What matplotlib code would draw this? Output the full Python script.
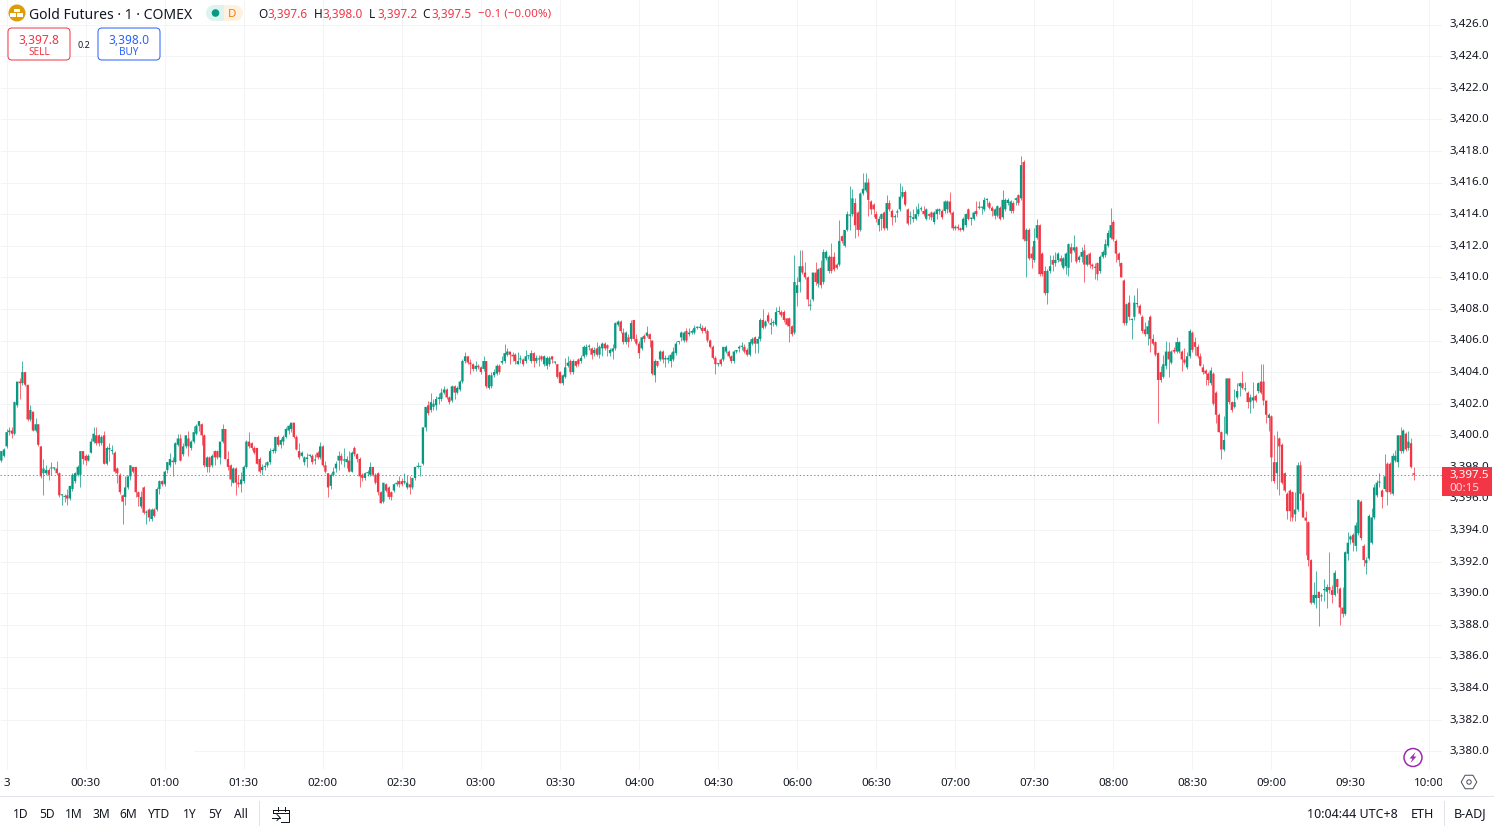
import numpy as np
import matplotlib
matplotlib.use('Agg')
import matplotlib.pyplot as plt
from matplotlib.patches import Circle, FancyBboxPatch, Polygon, Rectangle, RegularPolygon
from matplotlib.transforms import Bbox, ScaledTranslation

plt.rcParams['font.family'] = ['Noto Sans', 'DejaVu Sans']

# ─── DATA ───────────────────────────────────────────────────────────────────────
# 1 minute candles, prices, relative to BASE_PRICE
BASE_PRICE = 3400.0

opens = [
    -1.6,-1.3,-0.7,0.2,0.3,0.1,1.9,3.4,3.3,4.0,
    3.2,1.0,1.5,0.3,0.7,-0.7,-2.4,-2.4,-2.2,-2.1,
    -2.1,-2.1,-2.4,-3.8,-3.9,-3.8,-4.0,-3.4,-2.9,-2.5,
    -2.5,-1.0,-1.3,-1.6,-1.1,-0.4,0.0,0.0,-0.5,0.0,
    -1.8,-0.9,-1.0,-1.1,-2.1,-2.5,-3.8,-3.9,-3.3,-2.6,
    -2.0,-2.0,-3.6,-4.5,-3.3,-4.9,-4.7,-5.3,-4.7,-4.7,
    -3.4,-2.9,-3.1,-2.2,-1.9,-1.6,-1.7,-0.6,-0.2,-1.2,
    -0.7,-0.2,-0.8,-0.4,0.1,0.6,0.7,0.0,-2.0,-1.4,
    -1.9,-1.0,-1.0,-1.4,-0.4,0.4,-1.5,-1.9,-3.0,-2.1,-3.0,
    -3.1,-2.9,-2.0,-0.4,-0.5,-0.8,-0.8,-1.5,-2.2,-2.0,
    -1.9,-1.7,-1.0,-1.0,-0.1,-0.6,-0.4,-0.1,0.3,0.4,
    0.8,-0.1,-1.0,-1.3,-1.7,-1.5,-1.3,-1.3,-1.6,-1.1,
    -1.4,-0.7,-1.9,-2.4,-3.2,-2.5,-2.1,-1.6,-1.3,-1.6,
    -1.7,-1.6,-2.3,-0.8,-1.2,-1.5,-2.5,-2.7,-2.4,-2.5,
    -2.0,-2.5,-2.4,-3.6,-4.2,-3.1,-3.3,-3.6,-3.5,-3.1,
    -2.9,-2.9,-3.0,-3.3,-3.1,-3.3,-2.7,-2.0,-2.0,-1.8,
    0.5,1.9,1.6,1.8,1.9,2.3,2.3,2.7,2.9,2.4,
    2.2,3.1,2.7,2.9,3.4,4.7,5.0,4.6,4.5,4.2,4.4,
    4.3,4.2,4.7,3.0,3.1,3.8,3.9,4.4,4.6,4.7,
    5.1,5.3,5.1,5.1,4.5,4.8,4.8,4.7,5.0,4.7,
    5.2,4.7,4.8,5.0,4.5,4.4,4.5,5.0,4.6,4.5,
    4.0,3.3,3.7,4.4,4.7,4.0,4.7,4.8,4.7,5.0,
    5.1,5.6,5.5,5.2,5.5,5.1,5.5,5.8,5.7,5.2,
    5.3,5.5,7.0,7.2,6.5,5.9,6.2,6.1,7.3,6.1,
    5.8,5.5,6.3,6.3,6.4,6.0,3.8,4.7,4.8,5.3,
    4.8,4.8,4.7,4.8,5.2,5.9,6.2,6.0,6.6,6.4,
    6.5,6.5,6.8,6.8,6.8,6.8,6.6,6.0,5.6,4.9,4.5,
    4.8,4.8,5.3,5.3,5.0,4.7,5.3,5.5,5.6,5.6,
    5.4,5.1,5.8,6.2,5.8,6.1,7.3,6.9,7.6,7.0,
    7.1,7.0,7.8,7.8,7.8,7.4,7.4,6.9,6.5,9.0,
    9.7,10.7,10.3,10.0,8.2,8.6,10.3,9.6,10.6,9.7,
    11.2,10.4,11.3,11.3,10.8,10.8,12.6,12.0,13.0,13.9,
    14.0,14.7,14.1,13.0,15.3,15.5,16.0,14.8,14.6,14.0,
    13.3,13.7,14.1,13.1,14.7,14.2,13.8,14.1,14.3,15.1,
    15.4,14.3,13.8,13.7,13.7,14.0,14.3,14.2,13.7,14.0,
    14.1,13.5,14.0,14.2,14.2,14.2,14.3,14.8,14.1,13.1,13.2,13.1,
    13.0,13.3,14.3,13.7,13.7,14.2,14.4,14.4,14.3,14.9,
    14.7,14.4,13.9,13.9,14.4,13.8,14.3,14.7,14.2,14.7,
    14.9,15.2,15.0,17.3,12.3,13.0,11.5,11.1,12.5,13.3,
    11.5,10.4,9.0,10.4,11.1,10.9,11.1,11.2,10.6,10.7,
    10.6,11.9,11.7,11.9,11.1,11.3,11.7,10.8,11.5,10.8,
    10.6,10.9,10.4,11.3,11.4,12.0,12.5,13.5,12.3,11.5,
    10.9,9.8,7.1,8.4,7.3,7.5,8.3,8.2,7.5,6.7,
    6.4,7.5,6.1,5.9,5.2,4.0,3.7,4.4,5.3,4.6,
    5.4,5.3,5.3,5.3,4.8,4.3,5.0,6.5,5.9,5.6,5.0,
    4.3,4.1,3.9,3.3,3.9,2.7,1.3,0.2,-0.9,0.1,
    3.6,2.1,1.8,2.4,3.1,3.3,2.9,2.7,2.1,2.2,
    2.5,2.8,3.4,3.4,2.2,1.1,1.2,-1.7,-2.4,-0.2,
    -0.6,-2.4,-3.7,-3.5,-3.6,-5.0,-4.7,-1.9,-3.7,-5.2,
    -5.5,-7.9,-10.6,-10.3,-9.9,-10.2,-9.8,-9.9,-9.6,-9.8,
    -10.1,-9.1,-9.7,-10.9,-11.3,-7.5,-6.6,-6.3,-7.0,-6.2,
    -4.2,-7.0,-8.1,-7.8,-6.8,-5.2,-3.8,-3.0,-3.5,-3.4,
    -1.8,-1.8,-3.7,-1.6,-1.7,0.0,-1.0,0.1,-0.8,-0.5,
    -2.4,
]
highs = [
    -1.0,-0.8,0.4,0.5,0.5,2.2,3.4,3.6,4.7,4.0,
    3.2,1.9,1.5,1.1,0.7,-0.7,-1.5,-1.9,-2.1,-1.7,
    -2.0,-1.6,-2.3,-3.7,-3.7,-3.4,-3.2,-2.4,-2.3,-1.9,
    -1.0,-1.0,-1.2,-1.2,-0.2,0.5,0.5,0.1,0.0,0.3,
    -0.7,-0.5,-0.6,-1.0,-2.0,-2.4,-3.7,-2.6,-2.5,-1.9,
    -2.0,-2.0,-3.5,-3.5,-3.2,-4.7,-4.6,-4.6,-4.6,-3.3,
    -2.8,-2.8,-2.2,-1.7,-1.1,-1.4,-0.4,0.1,0.1,-0.5,
    0.0,0.3,-0.3,0.6,0.7,0.9,0.8,0.1,-1.3,-1.3,
    -1.2,-0.9,-0.9,-0.4,0.7,0.4,-1.0,-1.8,-2.0,-2.0,-2.5,
    -2.3,-1.9,-0.3,0.2,-0.4,-0.7,-0.8,-1.4,-1.8,-1.7,
    -1.6,-0.8,-0.8,-0.1,0.0,-0.2,0.0,0.5,0.7,0.8,
    0.8,0.0,-0.5,-1.0,-1.3,-1.1,-1.2,-1.2,-1.2,-1.0,
    -0.4,-0.6,-1.6,-2.4,-2.4,-2.0,-1.6,-1.0,-1.1,-0.8,
    -1.3,-1.0,-1.0,-0.7,-1.1,-1.4,-2.4,-2.3,-2.2,-1.7,
    -2.0,-2.4,-2.3,-3.5,-3.0,-3.0,-3.2,-3.5,-3.0,-2.8,
    -2.6,-2.7,-2.4,-2.5,-2.6,-2.7,-2.0,-1.7,-2.0,0.5,
    1.8,2.2,2.7,2.3,2.5,2.7,3.0,3.1,3.0,2.5,
    3.2,3.2,3.1,3.5,4.8,5.3,5.0,4.8,4.6,4.7,4.5,
    4.4,5.0,4.7,3.9,4.0,4.2,4.5,4.5,5.0,5.8,
    5.5,5.3,5.3,5.2,5.3,5.1,4.9,5.4,5.1,5.4,
    5.3,5.1,5.1,5.1,5.1,5.0,5.0,5.0,4.7,4.5,
    4.1,3.9,4.9,5.0,4.8,4.8,4.7,4.9,5.1,5.7,
    5.8,5.8,5.6,5.6,5.9,5.7,5.9,5.9,5.8,5.5,
    5.8,7.2,7.3,7.3,6.8,6.6,6.4,7.3,7.3,6.4,
    6.0,6.3,6.4,6.9,6.5,6.0,4.8,4.7,5.4,5.4,
    5.1,5.1,5.3,5.6,6.0,6.0,6.6,6.6,6.8,6.8,
    6.7,7.0,6.9,7.1,7.0,6.9,6.7,6.1,5.7,5.0,4.6,
    4.9,5.6,5.7,5.4,5.1,5.4,5.4,5.7,5.9,5.8,
    5.5,6.1,6.2,6.3,6.3,7.4,8.0,7.3,7.8,7.4,
    7.3,8.1,8.2,7.9,7.9,7.4,7.5,7.0,11.4,10.0,
    11.7,11.7,11.0,10.1,8.6,10.3,11.0,10.6,11.1,11.8,
    11.7,11.4,12.2,11.6,10.9,13.6,12.7,13.0,14.2,15.8,
    15.6,15.0,14.2,15.4,16.6,16.6,16.3,14.9,14.7,14.2,
    13.9,14.1,14.2,15.2,14.9,14.3,14.0,14.3,16.0,15.8,
    15.5,14.4,14.2,14.3,14.5,14.7,14.5,14.5,14.4,14.1,
    14.2,14.2,14.4,14.4,14.3,14.9,14.9,15.4,14.2,13.3,13.4,13.2,
    13.8,14.1,14.4,13.8,14.2,14.8,14.8,14.5,15.1,15.0,
    14.8,14.5,14.4,14.6,14.5,15.5,15.0,15.0,14.9,14.8,
    15.1,15.3,17.7,17.4,13.1,13.1,12.0,13.1,13.7,13.4,
    11.6,10.7,10.5,11.4,11.4,11.6,11.6,11.4,11.3,11.6,
    12.2,12.2,12.7,12.0,11.4,11.9,12.1,11.5,11.6,10.9,
    10.9,11.0,11.4,11.7,12.4,13.0,14.4,13.6,12.4,11.6,
    11.0,9.9,8.4,8.9,7.4,8.9,9.3,8.3,7.6,7.2,
    7.3,7.6,6.4,6.0,5.3,4.4,5.1,6.0,5.9,5.4,
    5.6,6.2,6.0,5.4,5.5,5.3,6.7,6.6,6.2,5.8,5.2,
    4.5,4.2,4.0,4.3,4.0,2.8,1.4,0.3,1.2,3.6,
    3.6,2.2,2.9,3.3,3.4,4.1,3.4,2.8,2.6,3.4,
    2.6,3.4,4.5,4.5,2.2,1.4,1.3,0.0,0.3,-0.1,
    -0.5,-2.3,-3.6,-3.4,-3.5,-3.6,-1.7,-1.6,-3.6,-4.8,
    -5.4,-7.8,-9.3,-8.6,-9.9,-10.0,-9.1,-9.4,-7.4,-9.5,
    -8.5,-9.0,-9.6,-9.6,-7.3,-6.1,-6.3,-6.2,-5.5,-4.0,
    -4.1,-6.9,-7.7,-5.0,-4.6,-3.1,-2.8,-2.4,-3.4,-1.2,
    -1.7,-1.7,-1.1,-0.9,0.0,0.5,0.4,0.2,0.3,-0.2,
    -2.0,
]
lows = [
    -1.7,-1.4,-0.8,0.0,-0.2,0.0,1.8,2.3,3.2,3.1,
    0.9,0.9,0.3,0.2,-0.7,-2.7,-3.8,-2.5,-2.8,-2.5,
    -2.2,-2.5,-3.9,-4.4,-4.2,-4.4,-4.1,-3.5,-3.0,-2.6,
    -3.3,-1.8,-1.9,-1.6,-1.1,-0.5,-0.6,-0.7,-0.6,-1.8,
    -1.9,-1.6,-1.2,-2.4,-3.0,-3.7,-5.6,-4.4,-3.4,-2.8,
    -2.4,-3.9,-4.5,-4.6,-5.0,-5.6,-5.4,-5.4,-5.2,-4.8,
    -3.7,-3.2,-3.2,-2.4,-2.0,-2.6,-1.8,-0.7,-1.6,-1.3,
    -0.8,-1.3,-0.9,-0.5,0.0,0.3,-0.6,-2.0,-2.3,-2.3,
    -2.0,-1.9,-1.5,-1.8,-0.5,-1.5,-2.2,-3.2,-3.0,-3.8,-3.3,
    -3.6,-3.0,-2.1,-0.8,-0.9,-1.2,-1.8,-2.4,-2.5,-2.2,
    -2.0,-1.8,-1.1,-1.1,-0.7,-0.8,-0.6,-0.2,0.1,0.2,
    -0.2,-0.9,-1.5,-1.4,-1.9,-2.0,-1.4,-1.8,-1.8,-1.5,
    -1.5,-2.0,-2.4,-3.9,-3.4,-2.6,-2.3,-2.2,-1.8,-2.0,
    -2.1,-2.3,-2.3,-1.3,-1.7,-3.3,-2.9,-2.8,-2.6,-2.6,
    -2.6,-3.1,-3.8,-4.3,-4.3,-3.6,-4.0,-4.1,-3.6,-3.2,
    -3.3,-3.2,-3.1,-3.4,-3.7,-3.4,-2.8,-2.1,-2.6,-1.9,
    0.3,1.3,1.5,1.6,1.6,2.0,2.2,2.6,2.3,2.0,
    2.1,2.3,2.6,2.8,3.3,4.6,4.5,3.9,4.1,4.1,4.2,
    3.9,4.1,3.0,2.9,3.0,3.7,3.8,3.9,4.5,4.6,
    5.0,4.5,4.7,4.5,4.5,4.6,4.4,4.6,4.8,4.6,
    4.3,4.6,4.4,4.7,4.4,4.2,4.4,4.6,4.5,3.6,
    3.3,3.2,3.6,4.3,3.9,3.9,4.3,4.4,4.6,4.9,
    5.0,5.4,4.8,5.0,5.0,4.9,5.0,5.4,5.0,5.0,
    4.8,5.4,6.9,6.5,5.8,5.8,5.6,6.0,6.0,5.7,
    4.9,5.4,5.9,6.2,5.6,3.8,3.4,4.3,4.7,4.6,
    4.3,4.6,4.3,4.7,5.1,5.8,6.0,5.9,5.9,6.3,
    6.4,6.4,6.7,6.7,6.5,6.5,5.9,5.5,4.8,3.9,4.4,
    4.4,4.7,5.2,4.9,4.6,4.6,5.2,5.3,5.4,5.2,
    5.0,5.0,5.7,5.2,5.2,6.0,6.7,6.8,7.1,6.4,
    6.9,6.9,7.7,7.5,7.2,6.9,5.9,6.3,6.4,8.2,
    9.1,10.2,9.9,8.2,7.9,8.5,9.5,9.4,9.3,9.6,
    11.1,10.3,10.3,10.4,10.5,10.7,12.2,11.9,12.9,13.0,
    13.9,12.5,12.6,12.9,15.2,15.4,13.9,14.0,13.8,13.5,
    12.9,13.0,13.0,13.0,14.2,13.3,13.5,13.8,14.2,15.0,
    14.5,13.3,13.4,13.5,13.6,13.9,14.2,13.9,13.6,13.7,
    13.6,13.4,13.7,14.0,13.7,14.1,14.1,14.0,13.0,13.0,13.0,12.9,
    12.9,13.2,13.6,13.3,13.6,13.9,14.3,14.0,14.2,14.5,
    14.3,13.9,13.7,13.8,13.6,13.7,14.2,14.6,14.1,14.1,
    14.6,14.6,14.9,12.3,10.0,11.1,10.6,11.0,12.4,10.1,
    10.1,8.9,8.3,10.3,10.4,10.7,11.0,10.8,10.5,10.2,
    10.1,11.0,11.6,10.9,11.0,11.0,9.7,10.7,10.6,10.5,
    9.9,9.8,10.3,11.2,11.3,11.9,12.4,12.3,11.0,10.7,
    10.0,7.0,7.0,7.3,6.1,7.3,8.1,7.6,6.5,6.3,
    5.7,5.3,5.7,5.0,0.8,3.4,3.6,4.2,3.7,4.5,
    5.2,5.2,5.2,4.1,4.5,4.2,4.9,5.3,5.1,4.9,4.4,
    3.9,3.2,3.2,3.2,1.9,0.8,0.2,-1.5,-1.0,0.0,
    2.0,1.5,1.7,2.3,2.5,2.9,2.8,1.7,1.4,1.7,
    2.1,2.7,2.6,1.9,0.8,0.3,-2.9,-3.0,-3.4,-3.8,
    -3.1,-3.6,-5.3,-5.4,-5.4,-5.4,-4.8,-4.1,-5.2,-7.6,
    -8.3,-10.7,-10.7,-10.9,-12.1,-10.5,-10.5,-10.9,-10.0,-10.6,
    -10.2,-10.0,-12.0,-11.5,-11.4,-7.9,-6.9,-7.3,-7.3,-6.3,
    -6.6,-8.3,-8.8,-7.9,-6.9,-5.3,-3.9,-3.3,-4.6,-3.5,
    -4.4,-3.7,-3.8,-1.7,-2.0,-1.1,-1.1,-1.0,-0.9,-2.1,
    -2.8,
]
closes = [
    -1.0,-0.9,0.2,0.3,0.1,2.1,3.4,3.3,4.0,3.2,
    1.0,1.6,0.3,0.7,-0.6,-2.6,-2.1,-2.2,-2.5,-2.1,
    -2.1,-2.4,-3.8,-3.8,-3.9,-4.0,-3.2,-2.5,-2.4,-2.0,
    -1.0,-1.5,-1.6,-1.3,-0.4,0.1,-0.5,-0.5,-0.1,-1.8,
    -0.8,-0.8,-1.0,-2.3,-2.4,-3.6,-4.2,-3.3,-2.6,-1.9,
    -2.3,-3.6,-3.9,-3.9,-4.9,-4.9,-5.2,-4.7,-5.1,-3.4,
    -2.9,-3.1,-2.3,-1.7,-1.5,-1.7,-0.5,-0.2,-1.6,-0.7,
    0.0,-0.7,-0.4,0.2,0.6,0.9,0.0,-1.9,-1.4,-2.0,
    -1.3,-1.4,-1.4,-0.4,0.4,-1.5,-2.0,-2.8,-2.1,-3.0,-3.1,
    -2.8,-2.0,-0.4,-0.7,-0.8,-1.1,-1.8,-2.3,-2.0,-2.0,
    -1.7,-1.0,-1.0,-0.1,-0.6,-0.3,-0.1,0.4,0.6,0.8,
    -0.1,-0.9,-1.4,-1.1,-1.4,-1.4,-1.3,-1.7,-1.6,-1.4,
    -0.7,-1.9,-2.3,-3.3,-2.5,-2.3,-1.8,-1.3,-1.6,-1.6,
    -1.5,-2.3,-1.1,-1.2,-1.5,-2.6,-2.7,-2.4,-2.4,-2.0,
    -2.5,-3.0,-3.6,-4.3,-3.0,-3.5,-3.9,-3.9,-3.1,-3.0,
    -3.1,-3.1,-2.9,-3.0,-3.3,-2.7,-2.0,-2.0,-2.0,0.5,
    1.8,1.4,2.1,2.0,2.3,2.4,2.7,2.9,2.4,2.1,
    3.1,2.7,3.0,3.4,4.7,5.0,4.6,4.5,4.2,4.4,4.3,
    4.0,4.7,3.1,3.8,3.8,4.0,4.4,4.0,4.7,5.2,
    5.3,5.1,5.0,4.7,4.7,4.8,4.5,5.0,5.0,5.2,
    4.7,4.9,4.8,4.8,5.0,4.9,4.9,4.8,4.6,3.7,
    3.3,3.8,4.3,4.6,4.0,4.7,4.4,4.5,4.9,5.6,
    5.6,5.6,5.1,5.4,5.1,5.6,5.8,5.5,5.5,5.4,
    5.5,7.1,7.2,6.6,5.9,6.5,5.9,7.1,6.1,5.8,
    5.2,6.2,6.1,6.5,6.1,3.9,4.7,4.4,5.3,4.8,
    4.9,4.9,5.1,5.3,5.8,5.9,6.5,6.5,6.0,6.5,
    6.6,6.8,6.8,6.8,6.6,6.6,6.0,5.6,4.9,4.5,4.5,
    4.5,5.6,5.6,5.0,4.7,5.3,5.4,5.6,5.6,5.3,
    5.1,5.9,6.1,5.8,6.1,7.3,6.8,7.2,7.2,7.1,
    7.1,7.8,7.8,7.6,7.3,7.0,6.9,6.4,9.7,9.5,
    10.7,10.3,10.0,8.6,8.2,10.3,9.7,10.5,9.5,11.6,
    11.6,11.3,10.4,10.5,10.6,12.3,12.3,13.0,14.0,13.9,
    15.0,13.3,13.0,15.3,15.6,16.0,14.9,14.3,14.3,13.7,
    13.7,14.0,13.1,14.7,14.3,13.8,13.8,14.1,15.1,15.4,
    14.6,13.4,13.8,13.8,14.0,14.3,14.3,14.0,14.3,13.9,
    13.8,14.1,14.3,14.3,13.8,14.8,14.8,14.1,13.1,13.2,13.1,13.0,
    13.7,14.0,13.7,13.7,14.1,14.0,14.4,14.4,14.9,14.9,
    14.4,14.2,14.3,14.5,13.7,14.9,14.9,14.9,14.8,14.2,
    15.0,14.7,17.1,12.4,13.0,11.2,11.2,12.3,13.3,10.2,
    10.2,9.0,10.4,10.7,10.8,11.1,11.5,11.0,11.2,11.5,
    12.1,11.5,11.9,11.0,11.3,11.6,10.8,11.4,10.8,10.7,
    10.6,10.2,11.3,11.6,12.1,12.8,13.3,12.4,11.5,11.1,
    10.0,7.1,8.3,7.5,7.3,8.4,8.3,7.7,6.6,6.4,
    6.9,6.1,5.8,5.1,3.5,3.5,4.5,5.3,4.8,5.3,
    5.3,5.9,5.9,4.8,4.6,5.0,6.6,5.4,5.6,5.0,4.4,
    4.0,3.9,3.5,4.1,2.0,1.3,0.2,-0.9,-0.3,3.6,
    2.1,1.6,2.1,2.8,3.3,3.0,2.9,2.1,2.4,2.4,
    2.2,3.3,2.7,2.2,1.3,1.3,-1.4,-2.9,-1.7,-0.7,
    -3.0,-3.5,-4.8,-4.8,-5.2,-4.7,-1.9,-3.7,-5.2,-5.4,
    -7.9,-10.6,-10.1,-10.1,-10.3,-10.2,-9.8,-9.6,-9.8,-10.1,
    -8.7,-9.6,-10.9,-11.3,-7.4,-6.8,-6.4,-6.8,-5.7,-4.1,
    -6.5,-7.9,-7.9,-5.1,-5.2,-3.3,-3.0,-3.0,-3.9,-2.6,
    -3.6,-3.6,-1.3,-1.3,0.0,-1.0,0.3,-0.9,-0.4,-2.0,
    -2.5,
]

time_labels = ['3', '00:30', '01:00', '01:30', '02:00', '02:30', '03:00', '03:30', '04:00', '04:30',
               '06:00', '06:30', '07:00', '07:30', '08:00', '08:30', '09:00', '09:30', '10:00']
time_bars = [2, 32, 62, 92, 122, 152, 182, 212, 242, 272, 302, 332, 362, 392, 422, 452, 482, 512, 542]
price_ticks = list(range(3380, 3427, 2))
last_price = 3397.5

range_buttons = ['1D', '5D', '1M', '3M', '6M', 'YTD', '1Y', '5Y', 'All']
range_button_x = [21, 47, 74, 101, 128, 159, 190, 215, 241]

# ─── CONFIG ─────────────────────────────────────────────────────────────────────
W = 1494; H = 833
PLOT_W = 1442; PLOT_H = 770
BAR_PX = 2.635
Y_3400 = 435.3; PX_PER_UNIT = 15.8
GREEN = '#089981'; RED = '#F23645'; BLUE = '#2962FF'; INK = '#131722'
GRID = '#F3F4F6'; LINE = '#E0E3EB'
px = 0.72   # font size in points for 1 screen pixel at dpi 100

fig = plt.figure(figsize=(W / 100, H / 100), dpi=100, facecolor='white')
ax = fig.add_axes([0, (H - PLOT_H) / H, PLOT_W / W, PLOT_H / H])

o = np.array(opens) + BASE_PRICE
h = np.array(highs) + BASE_PRICE
l = np.array(lows) + BASE_PRICE
c = np.array(closes) + BASE_PRICE
x = np.arange(len(o))
colors = np.where(c >= o, GREEN, RED)

# Grid (the 3,380 line only starts at about x=193 in the picture)
ax.set_xlim(-0.5, -0.5 + PLOT_W / BAR_PX)
ax.set_ylim(BASE_PRICE + (Y_3400 - PLOT_H) / PX_PER_UNIT, BASE_PRICE + Y_3400 / PX_PER_UNIT)
ax.hlines(price_ticks[1:], -0.5, -0.5 + PLOT_W / BAR_PX, color=GRID, lw=1 * px, zorder=1)
ax.hlines(price_ticks[0], 73, -0.5 + PLOT_W / BAR_PX, color=GRID, lw=1 * px, zorder=1)
ax.vlines(time_bars, ax.get_ylim()[0], ax.get_ylim()[1], color=GRID, lw=1 * px, zorder=1)

# Candles
ax.vlines(x, l, h, colors=colors, lw=1 * px, alpha=0.7, zorder=3)
bar_h = np.maximum(np.abs(c - o), 0.07)
bodies = ax.bar(x, bar_h, bottom=np.minimum(o, c), width=0.88, color=colors, linewidth=0, zorder=4)
for b in bodies:
    b.set_snap(False)

# Last price line
ax.axhline(last_price, color=RED, lw=1 * px, linestyle=(0, (1.4, 2.2)), alpha=0.8, zorder=2)

# Axes
for s in ax.spines.values():
    s.set_visible(False)
ax.yaxis.tick_right()
ax.set_yticks(price_ticks, [f'{p:,.1f}' for p in price_ticks])
ax.set_xticks(time_bars, time_labels)
ax.tick_params(axis='y', length=0, pad=7.5 * px, labelsize=11.6 * px, labelcolor=INK)
ax.tick_params(axis='x', length=0, pad=8.5 * px, labelsize=11.6 * px, labelcolor=INK)
up = ScaledTranslation(0, 1 / 100, fig.dpi_scale_trans)
for t in ax.get_yticklabels():
    t.set_transform(t.get_transform() + up)
xt = ax.get_xticklabels()
xt[0].set_fontweight('bold')
xt[-1].set_clip_on(True)
xt[-1].set_clip_box(Bbox([[0, 0], [PLOT_W, H]]))

# ─── Interface drawn in screen pixels on top ───
ui = fig.add_axes([0, 0, 1, 1], facecolor='none')
ui.set_xlim(0, W); ui.set_ylim(H, 0)
ui.axis('off')

def label(xp, yp, s, size=12, color=INK, ha='left', **kw):
    ui.text(xp, yp, s, fontsize=size * px, color=color, ha=ha, va='center_baseline', **kw)

# Price tag on the scale
ui.add_patch(Rectangle((1442, 467), 50, 29, facecolor=RED, edgecolor='none'))
label(1449, 473.5, '3,397.5', 11.6, 'white')
label(1449, 487, '00:15', 11.6, '#FFD7DB')

# Header
ui.add_patch(Circle((17, 13), 8.5, facecolor='#DE9C08', edgecolor='none'))
for bx, by in [(13.7, 8.6), (10.2, 13.2), (17.2, 13.2)]:
    ui.add_patch(Rectangle((bx, by), 6.2, 3.4, facecolor='white', edgecolor='none'))
label(29, 13.5, 'Gold Futures · 1 · COMEX', 14)
ui.add_patch(Circle((214, 13), 8, facecolor='#DDF3EF', edgecolor='none'))
ui.add_patch(Rectangle((214, 5), 10, 16, facecolor='#DDF3EF', edgecolor='none'))
ui.add_patch(Rectangle((224, 5), 12, 16, facecolor='#FFF1E0', edgecolor='none'))
ui.add_patch(Circle((235, 13), 8, facecolor='#FFF1E0', edgecolor='none'))
ui.add_patch(Circle((215.5, 13), 3.8, facecolor=GREEN, edgecolor='none'))
label(232.5, 13, 'D', 11.5, '#F57C00', 'center')

ohlc = [(258, 'O', 267, '3,397.6'), (313.5, 'H', 322.5, '3,398.0'),
        (369, 'L', 377, '3,397.2'), (422.5, 'C', 431, '3,397.5')]
for lx, name, vx, val in ohlc:
    label(lx, 12.5, name, 11.8)
    label(vx, 12.5, val, 11.8, RED)
label(477.5, 12.5, '−0.1 (−0.00%)', 11.6, RED)

# Sell / buy buttons
for bx, col, price, side in [(8, RED, '3,397.8', 'SELL'), (98, BLUE, '3,398.0', 'BUY')]:
    ui.add_patch(FancyBboxPatch((bx, 28), 62, 32, boxstyle='round,pad=0,rounding_size=4',
                                facecolor='white', edgecolor=col, lw=1 * px))
    label(bx + 31, 38.5, price, 12, col, 'center')
    label(bx + 31, 51, side, 10, col, 'center')
label(84, 44, '0.2', 9, INK, 'center')

# Lightning badge and settings hexagon
ui.add_patch(Circle((1413, 757.5), 9, facecolor='white', edgecolor='#9C27B0', lw=1.5 * px))
ui.add_patch(Polygon([[1415.5, 752], [1409.5, 758.5], [1412.5, 758.5], [1410.5, 763],
                      [1416.5, 756.5], [1413.5, 756.5]], facecolor='#9C27B0', edgecolor='none'))
ui.add_patch(RegularPolygon((1469, 782), 6, radius=7.8, orientation=np.pi / 6,
                            facecolor='white', edgecolor='#4A4E59', lw=1 * px))
ui.add_patch(Circle((1469, 782), 2.2, facecolor='white', edgecolor='#4A4E59', lw=1 * px))

# Bottom toolbar
ui.plot([0, W], [795.5, 795.5], color=LINE, lw=1 * px)
ui.plot([0, W], [832.5, 832.5], color=LINE, lw=1 * px)
ui.plot([258.5, 258.5], [801, 825], color=LINE, lw=1 * px)
ui.plot([1443.5, 1443.5], [801, 825], color=LINE, lw=1 * px)
for name, bx in zip(range_buttons, range_button_x):
    label(bx, 813, name, 12, INK, 'center')
# calendar icon
ui.plot([273, 289, 289, 281], [809.5, 809.5, 822, 822], color=INK, lw=1 * px)
ui.plot([273, 273], [809.5, 813], color=INK, lw=1 * px)
ui.plot([273, 289], [813, 813], color=INK, lw=1 * px)
ui.plot([277.5, 277.5], [806.5, 811], color=INK, lw=1 * px)
ui.plot([284.5, 284.5], [806.5, 811], color=INK, lw=1 * px)
ui.plot([272, 280], [817.5, 817.5], color=INK, lw=1 * px)
ui.plot([277, 280, 277], [814.5, 817.5, 820.5], color=INK, lw=1 * px)

label(1307, 812.5, '10:04:44 UTC+8', 12.5)
label(1411, 812.5, 'ETH', 12.5)
label(1454, 812.5, 'B-ADJ', 12.5)

fig.savefig('out.png', dpi=100)
